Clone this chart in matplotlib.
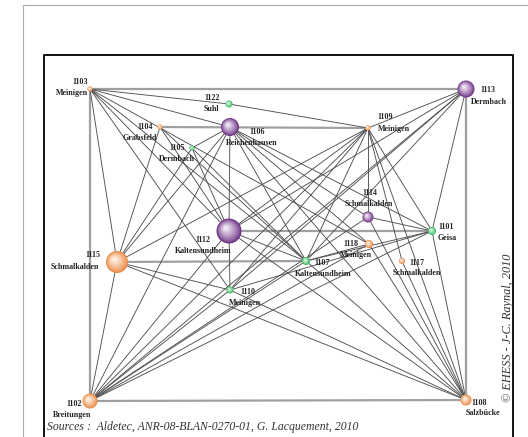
import matplotlib
matplotlib.use("Agg")
import matplotlib.pyplot as plt
from matplotlib.patches import Circle
import numpy as np

# noeuds du reseau (coordonnees en pixels de la carte)
ids = ["1103", "1113", "1122", "1104", "1106", "1105", "1109", "1114", "1101",
       "1112", "1115", "1107", "1118", "1117", "1110", "1102", "1108"]
names = ["Meinigen", "Dermbach", "Suhl", "Grabsfeld", "Reichenhausen", "Dermbach",
         "Meinigen", "Schmalkalden", "Geisa", "Kaltensundheim", "Schmalkalden",
         "Kaltensundheim", "Meinigen", "Schmalkalden", "Meinigen", "Breitungen", "Salzbücke"]
xs = [90, 466, 229, 160, 230, 192, 368, 368, 432, 229, 117, 306, 369, 402, 230, 90, 466]
ys = [89, 89, 104, 127, 127, 148, 128, 217, 231, 231, 262, 261, 244, 261, 290, 401, 400]
sizes = [2.5, 8.5, 3.5, 2.5, 9, 2.5, 2.5, 5.5, 4, 12.5, 11, 4, 4, 3, 3.5, 7.5, 5.5]
kinds = ["o", "p", "g", "o", "p", "g", "o", "p", "g", "p", "o", "g", "o", "o", "g", "o", "o"]

# position des etiquettes (numero puis nom)
num_pos = [(80, 82), (488, 90), (212, 98), (145, 127), (257, 132), (177, 148), (385, 117),
           (370, 193), (446, 227), (203, 240), (93, 255), (322, 263), (351, 244), (417, 263),
           (248, 292), (74, 404), (479, 403)]
name_pos = [(72, 93), (489, 102), (211, 109), (140, 138), (252, 143), (177, 159), (394, 129),
            (369, 204), (447, 238), (203, 251), (75, 267), (323, 274), (356, 255), (417, 273),
            (245, 303), (72, 415), (483, 413)]

# liens doubles (gris clair)
edges_main = [("1103", "1113"), ("1103", "1102"), ("1102", "1108"), ("1113", "1108"),
              ("1104", "1109"), ("1112", "1101"), ("1115", "1107")]
# liens simples
edges = [("1103", "1122"), ("1103", "1106"), ("1103", "1115"), ("1103", "1112"),
         ("1103", "1110"), ("1103", "1107"), ("1103", "1118"),
         ("1122", "1109"),
         ("1104", "1115"), ("1104", "1112"), ("1104", "1107"),
         ("1105", "1106"), ("1105", "1115"), ("1105", "1112"), ("1105", "1107"),
         ("1106", "1112"), ("1106", "1115"), ("1106", "1102"), ("1106", "1107"),
         ("1106", "1101"), ("1106", "1114"), ("1106", "1108"), ("1106", "1118"),
         ("1109", "1113"), ("1109", "1114"), ("1109", "1101"), ("1109", "1108"),
         ("1109", "1102"), ("1109", "1115"), ("1109", "1107"), ("1109", "1110"),
         ("1109", "1112"), ("1109", "1117"),
         ("1113", "1101"), ("1113", "1102"), ("1113", "1107"), ("1113", "1112"), ("1113", "1110"),
         ("1114", "1101"), ("1114", "1102"), ("1114", "1108"),
         ("1112", "1110"), ("1112", "1107"), ("1112", "1108"), ("1112", "1102"),
         ("1115", "1102"), ("1115", "1110"), ("1115", "1108"),
         ("1107", "1118"), ("1107", "1101"), ("1107", "1108"), ("1107", "1102"),
         ("1101", "1108"), ("1101", "1102"), ("1101", "1110"),
         ("1118", "1108"), ("1118", "1102"),
         ("1117", "1108"),
         ("1110", "1102"), ("1110", "1108")]

colors = {"p": ("#6e3385", "#f1e6f4"), "o": ("#ec8a45", "#fff1e4"), "g": ("#35b85a", "#d8f5e0")}

serif = "Liberation Serif"


def mix(c1, c2, t):
    a = np.array(matplotlib.colors.to_rgb(c1))
    b = np.array(matplotlib.colors.to_rgb(c2))
    return tuple(a + (b - a) * t)


def draw_sphere(ax, x, y, r, kind):
    dark, light = colors[kind]
    n = 12
    for i in range(n):
        t = i / (n - 1)
        rr = r * (1 - 0.85 * t)
        off = 0.25 * r * t
        ax.add_patch(Circle((x - off, y - off), rr, color=mix(dark, light, t ** 0.8),
                            zorder=3 + i * 0.01, lw=0))


def main():
    fig = plt.figure(figsize=(5.28, 4.37), dpi=100)
    ax = fig.add_axes([0, 0, 1, 1])
    ax.set_xlim(0, 528)
    ax.set_ylim(437, 0)
    ax.axis("off")

    # cadres
    ax.plot([23, 528], [5, 5], color="#aaaaaa", lw=0.8)
    ax.plot([23, 23], [5, 437], color="#aaaaaa", lw=0.8)
    ax.plot([44, 44, 513, 513], [440, 55, 55, 440], color="#111111", lw=1.4)

    pos = {k: (xs[i], ys[i]) for i, k in enumerate(ids)}
    for a, b in edges_main:
        ax.plot([pos[a][0], pos[b][0]], [pos[a][1], pos[b][1]], color="#a0a0a0", lw=1.6,
                zorder=1, solid_capstyle="butt")
    for a, b in edges:
        ax.plot([pos[a][0], pos[b][0]], [pos[a][1], pos[b][1]], color="#505050", lw=0.65,
                zorder=2)

    for i in range(len(ids)):
        draw_sphere(ax, xs[i], ys[i], sizes[i], kinds[i])
        ax.text(num_pos[i][0], num_pos[i][1], ids[i], fontsize=5.8, fontweight="bold",
                family=serif, ha="center", va="center", zorder=5, color="#222222")
        ax.text(name_pos[i][0], name_pos[i][1], names[i], fontsize=5.8, fontweight="bold",
                family=serif, ha="center", va="center", zorder=5, color="#222222")

    ax.text(47, 427, "Sources :  Aldetec, ANR-08-BLAN-0270-01, G. Lacquement, 2010",
            fontsize=8.5, style="italic", family=serif, ha="left", va="center", color="#333333")
    ax.text(508, 328, "© EHESS - J-C. Raynal, 2010", fontsize=8.8, style="italic",
            family=serif, rotation=90, ha="center", va="center", color="#333333")

    plt.savefig("out.png", dpi=100)


if __name__ == '__main__':
    main()
